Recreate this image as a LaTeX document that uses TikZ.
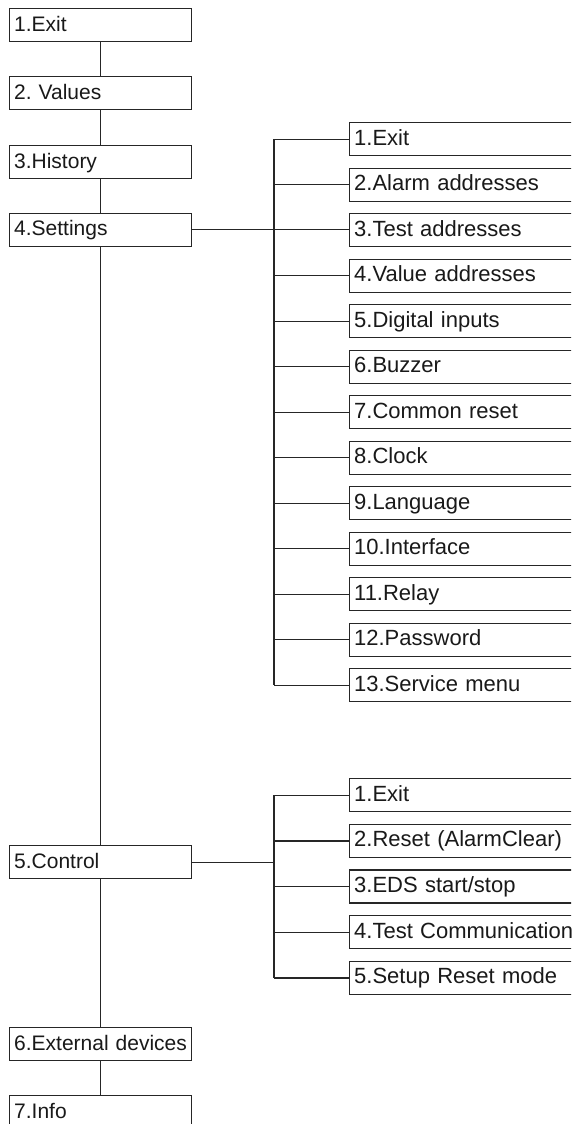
\documentclass[tikz,border=0pt]{standalone}
\usepackage{fontspec}
\setmainfont{Liberation Sans}
\frenchspacing
\begin{document}
\begin{tikzpicture}[x=1pt,y=-1pt,
  conn/.style={line width=1.3pt,draw=black!85},
  menubox/.style={draw=black!85,line width=1.3pt,anchor=north west,minimum height=33pt,
    inner xsep=4.5pt,inner ysep=0pt,align=left,text height=16.5pt,text depth=4.5pt,text=black!90},
  mainbox/.style={menubox,text width=173pt,font=\fontsize{21}{25}\selectfont},
  subbox/.style={menubox,text width=262pt,font=\fontsize{22}{26}\selectfont}]
\useasboundingbox (0,0) rectangle (571,1124);
\clip (0,0) rectangle (571,1124);
\fill[white] (0,0) rectangle (571,1124);
% main column
\node[mainbox] (m1) at (9,8) {\mbox{1.Exit}};
\node[mainbox] (m2) at (9,76) {\mbox{2. Values}};
\node[mainbox] (m3) at (9,145) {\mbox{3.History}};
\node[mainbox] (m4) at (9,212.5) {\mbox{4.Settings}};
\node[mainbox] (m5) at (9,845) {\mbox{5.Control}};
\node[mainbox] (m6) at (9,1027) {\mbox{6.External devices}};
\node[mainbox] (m7) at (9,1095) {\mbox{7.Info}};
\foreach \a/\b in {m1/m2,m2/m3,m3/m4,m4/m5,m5/m6,m6/m7}
  \draw[conn] (\a.south) -- (\b.north);
% settings submenu
\foreach \i/\t in {1/1.Exit,2/2.Alarm addresses,3/3.Test addresses,4/4.Value addresses,
  5/5.Digital inputs,6/6.Buzzer,7/7.Common reset,8/8.Clock,9/9.Language,
  10/10.Interface,11/11.Relay,12/12.Password,13/13.Service menu}
  \node[subbox] (s\i) at (349,{122+45.5*(\i-1)}) {\mbox{\t}};
\coordinate (sb) at (274,0);
\draw[conn] (m4.east) -- (m4.east -| s3.west);
\draw[conn] (s1.west -| sb) -- (s13.west -| sb);
\foreach \i in {1,2,4,5,6,7,8,9,10,11,12,13}
  \draw[conn] (s\i.west) -- (s\i.west -| sb);
% control submenu
\foreach \i/\t in {1/{1.Exit},2/{2.Reset (AlarmClear)},3/{3.EDS start/stop},
  4/{4.Test Communication},5/{5.Setup Reset mode}}
  \node[subbox] (c\i) at (349,{778+45.7*(\i-1)}) {\mbox{\t}};
\coordinate (cb) at (274,0);
\draw[conn] (m5.east) -- (m5.east -| cb);
\draw[conn] (c1.west -| cb) -- (c5.west -| cb);
\foreach \i in {1,...,5}
  \draw[conn] (c\i.west) -- (c\i.west -| cb);
\end{tikzpicture}
\end{document}
